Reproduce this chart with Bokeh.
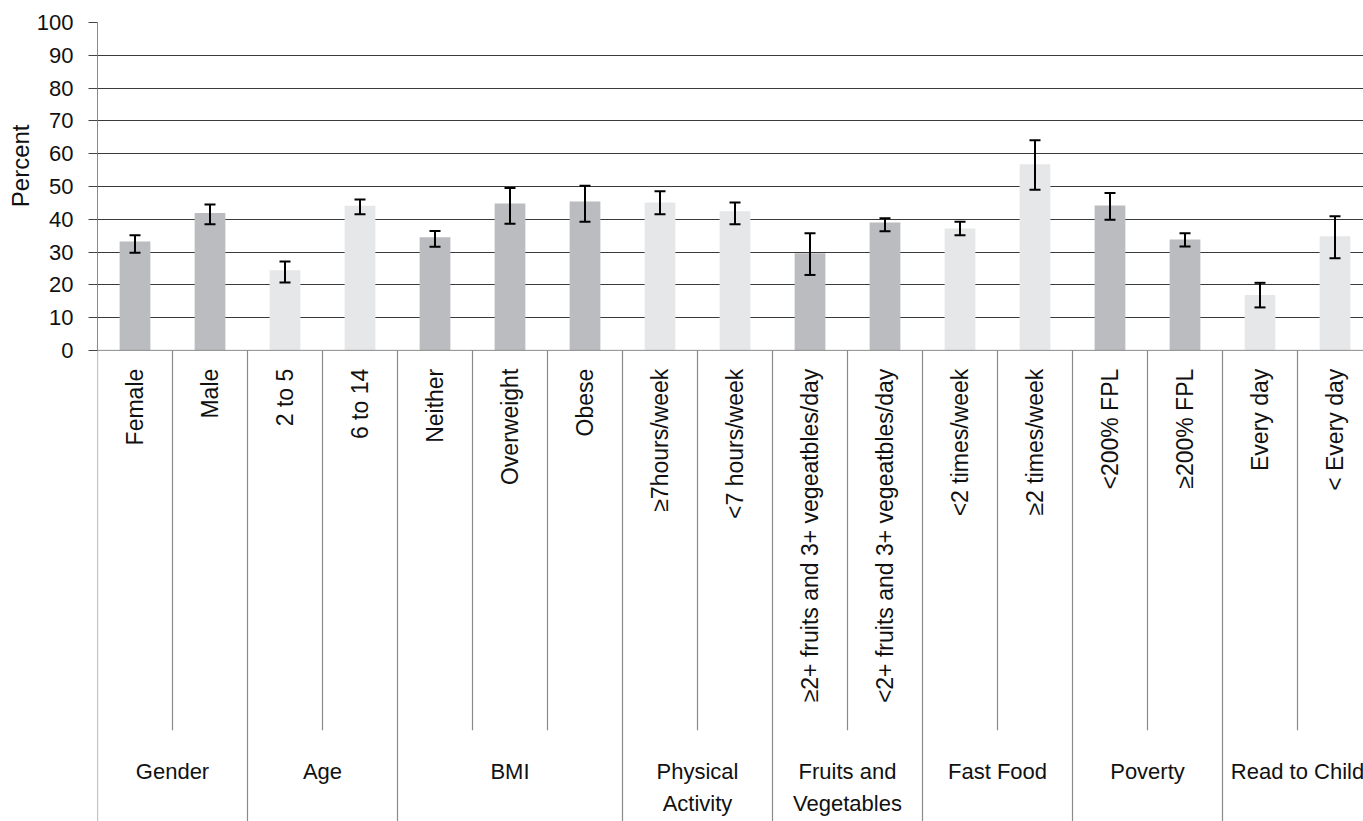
from math import pi
from bokeh.plotting import figure
from bokeh.models import (ColumnDataSource, Whisker, TeeHead, FixedTicker, Title,
                          Range1d, Span)
from bokeh.core.properties import value
from bokeh.embed import file_html
from bokeh.resources import INLINE

# ---------------- data ----------------
categories = ["Female", "Male", "2 to 5", "6 to 14", "Neither", "Overweight", "Obese",
              "\u22657hours/week", "<7 hours/week",
              "\u22652+ fruits and 3+ vegeatbles/day", "<2+ fruits and 3+ vegeatbles/day",
              "<2 times/week", "\u22652 times/week",
              "<200% FPL", "\u2265200% FPL", "Every day", "< Every day"]
percent = [33.2, 41.9, 24.4, 44.1, 34.5, 44.8, 45.4, 45.1, 42.4, 29.6, 39.0,
           37.2, 56.8, 44.2, 33.8, 16.9, 34.8]
upper = [35.1, 44.5, 27.1, 46.0, 36.4, 49.5, 50.2, 48.5, 45.1, 35.7, 40.3,
         39.2, 64.1, 48.0, 35.7, 20.6, 40.9]
lower = [29.8, 38.5, 20.7, 41.5, 31.6, 38.6, 39.2, 41.5, 38.5, 23.0, 36.3,
         35.1, 49.0, 39.8, 31.7, 13.1, 28.1]
groups = ["Gender", "Age", "BMI", "Physical\nActivity", "Fruits and\nVegetables",
          "Fast Food", "Poverty", "Read to Child"]
group_sizes = [2, 2, 3, 2, 2, 2, 2, 2]
yticks = [0, 10, 20, 30, 40, 50, 60, 70, 80, 90, 100]

# ---------------- styles ----------------
FONT = "Liberation Sans"
DARK = "#bbbcbf"
LIGHT = "#e6e7e8"
SEP = "#8a8a8a"

n = len(categories)
xs = [i + 0.5 for i in range(n)]
colors = []
for gi, size in enumerate(group_sizes):
    colors += [DARK if gi % 2 == 0 else LIGHT] * size

y_start = -143.7
p = figure(width=1363, height=821, output_backend="svg", toolbar_location=None,
           x_range=Range1d(0, 16.88), y_range=Range1d(y_start, 100),
           x_axis_location=None, min_border_left=97, min_border_top=22,
           min_border_bottom=0, min_border_right=0)
p.outline_line_color = None
p.xgrid.visible = False
p.background_fill_color = "white"

# grid
p.ygrid.ticker = FixedTicker(ticks=yticks[1:])
p.ygrid.grid_line_color = "#3a3a3a"
p.ygrid.grid_line_width = 1

yax = p.yaxis[0]
yax.ticker = FixedTicker(ticks=yticks)
yax.bounds = (0, 100)
yax.axis_line_color = SEP
yax.major_tick_line_color = "#444444"
yax.major_tick_out = 9
yax.major_tick_in = 0
yax.minor_tick_line_color = None
yax.major_label_standoff = 15
yax.major_label_text_font = FONT
yax.major_label_text_font_size = "22px"
yax.major_label_text_color = "#111111"

# baseline
p.add_layout(Span(location=0, dimension="width", line_color=SEP, line_width=1))

# bars
src = ColumnDataSource(dict(x=xs, top=percent, upper=upper, lower=lower,
                            color=colors, label=categories))
p.vbar(x="x", top="top", bottom=0, width=0.41, fill_color="color",
       line_color=None, source=src)

# error bars
w = Whisker(source=src, base="x", upper="upper", lower="lower",
            line_color="black", line_width=2, level="overlay",
            upper_head=TeeHead(size=11, line_color="black", line_width=2),
            lower_head=TeeHead(size=11, line_color="black", line_width=2))
p.add_layout(w)

# separators
inner_bottom = -115.9
bx = [0]
for s in group_sizes:
    bx.append(bx[-1] + s)
inner = [i for i in range(1, n) if i not in bx]
p.segment(x0=bx, x1=bx, y0=[0] * len(bx), y1=[y_start] * len(bx),
          line_color=SEP, line_width=1.2)
p.segment(x0=inner, x1=inner, y0=[0] * len(inner), y1=[inner_bottom] * len(inner),
          line_color=SEP, line_width=1.2)

# category labels (rotated)
p.text(x="x", y=-5.6, text="label", source=src, angle=pi / 2,
       text_align="right", text_baseline="middle",
       text_font=value(FONT), text_font_size="23px", text_color="#111111")

# group labels
gx = [(bx[i] + bx[i + 1]) / 2 for i in range(len(groups))]
p.text(x=gx, y=[-124.6] * len(groups), text=groups, text_align="center",
       text_baseline="top", text_font=value(FONT), text_font_size="22px",
       text_color="#111111", text_line_height=1.3)

# y axis label
p.add_layout(Title(text="Percent", align="right", offset=102,
                   text_font=FONT, text_font_size="24px",
                   text_font_style="normal", text_color="#111111",
                   standoff=0), "left")

open("out.html", "w").write(file_html(p, INLINE))
